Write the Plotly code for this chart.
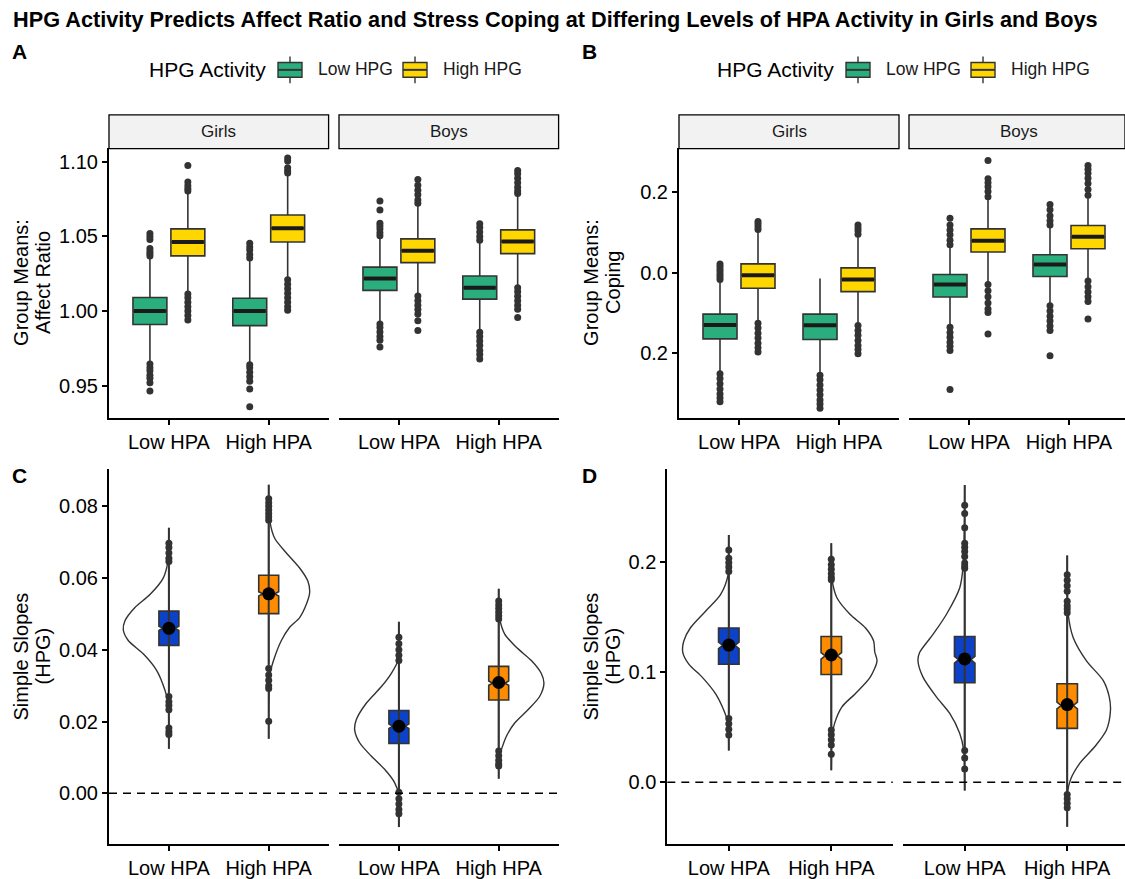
import plotly.graph_objects as go

W, H = 1125, 879
FONT = "Liberation Sans, Arial, Helvetica, sans-serif"

# ---------------- shared labels ----------------
hpa_labels = ["Low HPA", "High HPA"]
sex_labels = ["Girls", "Boys"]
hpg_labels = ["Low HPG", "High HPG"]
hpg_colors = ["#2AAE7E", "#FFD700"]
hpa_colors = ["#0B42C8", "#FF8C00"]
legend_title = "HPG Activity"

# ---------------- Panel A: Group means, Affect Ratio ----------------
# order: Girls(LowHPG LowHPA, LowHPG HighHPA, HighHPG LowHPA, HighHPG HighHPA), Boys(same)
A_sex = ["Girls"] * 4 + ["Boys"] * 4
A_hpg = ["Low HPG", "Low HPG", "High HPG", "High HPG"] * 2
A_hpa = ["Low HPA", "High HPA"] * 4
A_q1 = [0.9910, 0.9903, 1.0370, 1.0463, 1.0139, 1.0080, 1.0325, 1.0385]
A_med = [1.0000, 1.0000, 1.0463, 1.0555, 1.0219, 1.0157, 1.0405, 1.0467]
A_q3 = [1.0091, 1.0086, 1.0551, 1.0644, 1.0295, 1.0235, 1.0484, 1.0544]
A_lo = [0.9655, 0.9650, 1.0125, 1.0220, 0.9920, 0.9865, 1.0105, 1.0165]
A_hi = [1.0365, 1.0340, 1.0795, 1.0910, 1.0495, 1.0460, 1.0715, 1.0780]
A_out = [
    [1.052, 1.050, 1.048, 1.042, 1.040, 1.0385, 1.037, 0.9645, 0.962, 0.960, 0.957, 0.955, 0.952, 0.9465],
    [1.0455, 1.043, 1.041, 1.038, 1.0355, 0.964, 0.962, 0.959, 0.956, 0.953, 0.9478, 0.936],
    [1.0976, 1.0865, 1.084, 1.082, 1.0805, 1.0115, 1.009, 1.006, 1.003, 1.000, 0.997, 0.994],
    [1.1025, 1.1005, 1.096, 1.094, 1.0925, 1.021, 1.018, 1.015, 1.012, 1.009, 1.006, 1.003, 1.0005],
    [1.0737, 1.0677, 1.0589, 1.057, 1.055, 1.0525, 1.0505, 0.9914, 0.989, 0.986, 0.983, 0.9805, 0.9759],
    [1.0585, 1.056, 1.053, 1.050, 1.0475, 0.9859, 0.983, 0.980, 0.977, 0.9737, 0.971, 0.968],
    [1.0882, 1.0843, 1.081, 1.078, 1.0745, 1.0722, 1.0102, 1.007, 1.004, 1.001, 0.998, 0.9936, 0.987],
    [1.0942, 1.092, 1.089, 1.086, 1.083, 1.0805, 1.0788, 1.0157, 1.013, 1.010, 1.007, 1.004, 1.0013, 0.9958],
]
A_ticks = [0.95, 1.00, 1.05, 1.10]
A_ticktext = ["0.95", "1.00", "1.05", "1.10"]
A_range = [0.9285, 1.1093]

# ---------------- Panel B: Group means, Coping ----------------
B_q1 = [-0.1640, -0.1656, -0.0390, -0.0473, -0.0603, -0.0098, 0.0507, 0.0588]
B_med = [-0.1297, -0.1305, -0.0065, -0.0171, -0.0294, 0.0196, 0.0783, 0.0881]
B_q3 = [-0.1028, -0.1028, 0.0213, 0.0115, -0.0049, 0.0440, 0.1077, 0.1160]
B_lo = [-0.248, -0.252, -0.124, -0.129, -0.134, -0.081, -0.028, -0.020]
B_hi = [-0.019, -0.0147, 0.104, 0.0935, 0.067, 0.116, 0.186, 0.190]
B_out = [
    [0.0213, 0.015, 0.008, 0.002, -0.005, -0.011, -0.017, -0.250, -0.262, -0.275, -0.288, -0.300, -0.310, -0.319],
    [-0.2537, -0.265, -0.278, -0.290, -0.302, -0.315, -0.325, -0.335],
    [0.126, 0.120, 0.113, 0.106, -0.1256, -0.137, -0.150, -0.162, -0.175, -0.186, -0.1966],
    [0.1175, 0.110, 0.103, 0.0947, -0.131, -0.143, -0.155, -0.168, -0.180, -0.190, -0.2007],
    [0.134, 0.1175, 0.105, 0.093, 0.080, 0.0685, -0.1354, -0.148, -0.160, -0.172, -0.182, -0.1924, -0.2889],
    [0.168, 0.155, 0.140, 0.128, 0.1175, -0.0823, -0.095, -0.108, -0.120, -0.132, -0.1435, -0.2056],
    [0.2766, 0.2318, 0.222, 0.212, 0.200, 0.187, -0.0294, -0.045, -0.060, -0.075, -0.090, -0.0987, -0.1518],
    [0.2644, 0.255, 0.245, 0.233, 0.220, 0.205, 0.191, -0.021, -0.035, -0.048, -0.060, -0.0717, -0.115],
]
B_ticks = [-0.2, 0.0, 0.2]
B_ticktext = ["0.2", "0.0", "0.2"]
B_range = [-0.359, 0.3077]

# ---------------- Panel C: Simple slopes (HPG), Affect Ratio ----------------
# order: Girls Low HPA, Girls High HPA, Boys Low HPA, Boys High HPA
S_sex = ["Girls", "Girls", "Boys", "Boys"]
S_hpa = ["Low HPA", "High HPA", "Low HPA", "High HPA"]
C_q1 = [0.0412, 0.0501, 0.0139, 0.0260]
C_med = [0.0460, 0.0556, 0.0187, 0.0307]
C_q3 = [0.0508, 0.0608, 0.0231, 0.0354]
C_mean = [0.0460, 0.0556, 0.0187, 0.0309]
C_lo = [0.0285, 0.0360, 0.0010, 0.0125]
C_hi = [0.0635, 0.0750, 0.0360, 0.0480]
C_notch = [0.0006, 0.0006, 0.0006, 0.0006]
C_out = [
    [0.0697, 0.0685, 0.067, 0.0655, 0.0646, 0.027, 0.0255, 0.0245, 0.0233, 0.0182, 0.0172, 0.0164],
    [0.0821, 0.081, 0.080, 0.079, 0.078, 0.077, 0.0761, 0.0348, 0.033, 0.0315, 0.030, 0.0292, 0.0201],
    [0.0435, 0.0417, 0.040, 0.0385, 0.037, 0.0003, -0.0015, -0.003, -0.0045, -0.0057],
    [0.0536, 0.0525, 0.0515, 0.0505, 0.0495, 0.0486, 0.0118, 0.0105, 0.0092, 0.0082, 0.0076],
]
# half-violin: value grid and density (half width, in category units)
C_vy = [
    [0.0740, 0.0690, 0.0646, 0.0600, 0.0554, 0.0518, 0.0481, 0.0456, 0.0426, 0.0389, 0.0343, 0.0288, 0.0251, 0.0200, 0.0124],
    [0.0860, 0.0805, 0.0761, 0.0711, 0.0670, 0.0628, 0.0591, 0.0559, 0.0527, 0.0490, 0.0463, 0.0426, 0.0380, 0.0338, 0.0250, 0.0152],
    [0.0478, 0.0420, 0.0370, 0.0334, 0.0297, 0.0251, 0.0205, 0.0177, 0.0141, 0.0104, 0.0067, 0.0030, -0.0002, -0.0050, -0.0094],
    [0.0570, 0.0520, 0.0486, 0.0444, 0.0407, 0.0370, 0.0334, 0.0306, 0.0270, 0.0233, 0.0196, 0.0159, 0.0122, 0.0104, 0.0041],
]
C_vd = [
    [0.0, 0.002, 0.010, 0.057, 0.190, 0.340, 0.440, 0.457, 0.407, 0.257, 0.123, 0.040, 0.007, 0.002, 0.0],
    [0.0, 0.002, 0.010, 0.060, 0.177, 0.310, 0.393, 0.410, 0.377, 0.310, 0.210, 0.127, 0.060, 0.017, 0.002, 0.0],
    [0.0, 0.002, 0.010, 0.077, 0.177, 0.327, 0.427, 0.443, 0.393, 0.277, 0.143, 0.043, 0.003, 0.001, 0.0],
    [0.0, 0.002, 0.010, 0.060, 0.177, 0.327, 0.427, 0.453, 0.410, 0.293, 0.160, 0.077, 0.027, 0.007, 0.0],
]
C_ticks = [0.00, 0.02, 0.04, 0.06, 0.08]
C_ticktext = ["0.00", "0.02", "0.04", "0.06", "0.08"]
C_range = [-0.0141, 0.0904]

# ---------------- Panel D: Simple slopes (HPG), Coping ----------------
D_q1 = [0.1069, 0.0976, 0.0901, 0.0488]
D_med = [0.1240, 0.1145, 0.1110, 0.0695]
D_q3 = [0.1398, 0.1320, 0.1320, 0.0892]
D_mean = [0.1243, 0.1153, 0.1117, 0.0703]
D_lo = [0.062, 0.051, 0.032, -0.009]
D_hi = [0.188, 0.181, 0.192, 0.151]
D_notch = [0.003, 0.003, 0.003, 0.003]
D_out = [
    [0.2105, 0.203, 0.199, 0.195, 0.191, 0.0578, 0.053, 0.048, 0.0428],
    [0.202, 0.197, 0.193, 0.189, 0.1855, 0.1836, 0.0473, 0.043, 0.0385, 0.0338, 0.0254],
    [0.251, 0.2435, 0.2306, 0.2165, 0.213, 0.209, 0.2045, 0.1986, 0.196, 0.194, 0.0288, 0.0218, 0.012],
    [0.188, 0.183, 0.178, 0.173, 0.164, 0.160, 0.157, 0.1536, -0.0111, -0.015, -0.019, -0.0231],
]
D_vy = [
    [0.2240, 0.2050, 0.1880, 0.1700, 0.1550, 0.1400, 0.1280, 0.1177, 0.1070, 0.0952, 0.0802, 0.0652, 0.0533, 0.0400, 0.0288],
    [0.2165, 0.1980, 0.1836, 0.1670, 0.1520, 0.1400, 0.1280, 0.1180, 0.1100, 0.0952, 0.0802, 0.0683, 0.0533, 0.0413, 0.0250, 0.0108],
    [0.2695, 0.2300, 0.1940, 0.1760, 0.1520, 0.1340, 0.1177, 0.1100, 0.0952, 0.0773, 0.0623, 0.0443, 0.0293, 0.0120, -0.0075],
    [0.2054, 0.1750, 0.1520, 0.1310, 0.1100, 0.0922, 0.0773, 0.0652, 0.0473, 0.0323, 0.0173, 0.0023, -0.0096, -0.0250, -0.0404],
]
D_vd = [
    [0.0, 0.002, 0.007, 0.081, 0.227, 0.374, 0.439, 0.449, 0.390, 0.260, 0.130, 0.049, 0.007, 0.002, 0.0],
    [0.0, 0.002, 0.007, 0.056, 0.185, 0.332, 0.413, 0.424, 0.446, 0.380, 0.234, 0.104, 0.032, 0.007, 0.002, 0.0],
    [0.0, 0.003, 0.017, 0.049, 0.179, 0.309, 0.439, 0.456, 0.407, 0.276, 0.146, 0.049, 0.010, 0.002, 0.0],
    [0.0, 0.002, 0.010, 0.059, 0.188, 0.351, 0.410, 0.422, 0.383, 0.270, 0.124, 0.032, 0.003, 0.001, 0.0],
]
D_ticks = [0.0, 0.1, 0.2]
D_ticktext = ["0.0", "0.1", "0.2"]
D_range = [-0.056, 0.2839]

# ---------------- layout geometry (pixels) ----------------
geo = {
    "A": dict(facets=[(109, 328.6), (339, 558.6)], top=149.3, bottom=421.7),
    "B": dict(facets=[(679, 899), (909, 1129)], top=149.3, bottom=421.7),
    "C": dict(facets=[(109, 328.6), (339, 558.6)], top=473.3, bottom=851.7),
    "D": dict(facets=[(667.3, 892.8), (903.2, 1128.7)], top=473.3, bottom=851.7),
}
axis_ids = {"A": (("x", "x2"), "y"), "B": (("x3", "x4"), "y2"),
            "C": (("x5", "x6"), "y3"), "D": (("x7", "x8"), "y4")}

DARK = "#333333"
fig = go.Figure()


def xa_name(a):
    return "xaxis" + a[1:]


def ya_name(a):
    return "yaxis" + a[1:]


def px(xp):
    return xp / W


def py(yp):
    return 1 - yp / H


# ---------- group-mean boxplots (A, B) ----------
dodge = [-0.19, 0.19]
box_w = 0.34


def add_group_boxes(panel, q1, med, q3, lo, hi, out):
    xs_ids, y_id = axis_ids[panel]
    for si, sex in enumerate(sex_labels):
        for gi, hpg in enumerate(hpg_labels):
            idx = [i for i in range(8) if A_sex[i] == sex and A_hpg[i] == hpg]
            xpos = [hpa_labels.index(A_hpa[i]) + 1 + dodge[gi] for i in idx]
            fig.add_trace(go.Box(
                x=xpos, q1=[q1[i] for i in idx], median=[med[i] for i in idx],
                q3=[q3[i] for i in idx], lowerfence=[lo[i] for i in idx],
                upperfence=[hi[i] for i in idx], width=box_w,
                fillcolor=hpg_colors[gi], line=dict(color=DARK, width=1.6),
                whiskerwidth=0, boxpoints=False, name=hpg, showlegend=False,
                xaxis=xs_ids[si], yaxis=y_id, hoverinfo="skip"))
            mx, my = [], []
            for k, i in enumerate(idx):
                mx += [xpos[k] - box_w / 2 + 0.01, xpos[k] + box_w / 2 - 0.01, None]
                my += [med[i], med[i], None]
            fig.add_trace(go.Scatter(x=mx, y=my, mode="lines",
                                     line=dict(color="#1a1a1a", width=4),
                                     showlegend=False, xaxis=xs_ids[si], yaxis=y_id,
                                     hoverinfo="skip"))
            ox, oy = [], []
            for k, i in enumerate(idx):
                ox += [xpos[k]] * len(out[i])
                oy += out[i]
            fig.add_trace(go.Scatter(x=ox, y=oy, mode="markers",
                                     marker=dict(color=DARK, size=7),
                                     showlegend=False, xaxis=xs_ids[si], yaxis=y_id,
                                     hoverinfo="skip"))


add_group_boxes("A", A_q1, A_med, A_q3, A_lo, A_hi, A_out)
add_group_boxes("B", B_q1, B_med, B_q3, B_lo, B_hi, B_out)


# ---------- simple-slope raincloud plots (C, D) ----------
def add_slopes(panel, q1, med, q3, mean, lo, hi, notch, out, vy, vd):
    xs_ids, y_id = axis_ids[panel]
    for i in range(4):
        xa = xs_ids[sex_labels.index(S_sex[i])]
        hi_idx = hpa_labels.index(S_hpa[i])
        c = hi_idx + 1
        side = -1 if hi_idx == 0 else 1
        fig.add_trace(go.Scatter(x=[c, c], y=[vy[i][0], vy[i][-1]], mode="lines",
                                 line=dict(color=DARK, width=2), showlegend=False,
                                 xaxis=xa, yaxis=y_id, hoverinfo="skip"))
        fig.add_trace(go.Scatter(x=[c + side * d for d in vd[i]], y=vy[i], mode="lines",
                                 line=dict(color=DARK, width=1.4, shape="spline", smoothing=0.8),
                                 showlegend=False, xaxis=xa, yaxis=y_id, hoverinfo="skip"))
        fig.add_trace(go.Box(
            x=[c], q1=[q1[i]], median=[med[i]], q3=[q3[i]], lowerfence=[lo[i]],
            upperfence=[hi[i]], notched=True, notchspan=[notch[i]], notchwidth=0.2,
            width=0.2, fillcolor=hpa_colors[hi_idx], line=dict(color=DARK, width=1.6),
            whiskerwidth=0, boxpoints=False, showlegend=False,
            xaxis=xa, yaxis=y_id, hoverinfo="skip"))
        fig.add_trace(go.Scatter(x=[c] * len(out[i]), y=out[i], mode="markers",
                                 marker=dict(color=DARK, size=7), showlegend=False,
                                 xaxis=xa, yaxis=y_id, hoverinfo="skip"))
        fig.add_trace(go.Scatter(x=[c], y=[mean[i]], mode="markers",
                                 marker=dict(color="black", size=13), showlegend=False,
                                 xaxis=xa, yaxis=y_id, hoverinfo="skip"))


add_slopes("C", C_q1, C_med, C_q3, C_mean, C_lo, C_hi, C_notch, C_out, C_vy, C_vd)
add_slopes("D", D_q1, D_med, D_q3, D_mean, D_lo, D_hi, D_notch, D_out, D_vy, D_vd)

# ---------- axes, strips, reference lines ----------
yinfo = {"A": (A_range, A_ticks, A_ticktext), "B": (B_range, B_ticks, B_ticktext),
         "C": (C_range, C_ticks, C_ticktext), "D": (D_range, D_ticks, D_ticktext)}
layout_axes = {}
shapes = []
annotations = []


def add_text(text, x, y, size, color="black", angle=0, xanchor="center"):
    annotations.append(dict(text=text, xref="paper", yref="paper", x=px(x), y=py(y),
                            xanchor=xanchor, yanchor="middle", textangle=angle,
                            showarrow=False, font=dict(size=size, color=color, family=FONT)))


for panel, g in geo.items():
    xs_ids, y_id = axis_ids[panel]
    for fi, (L, R) in enumerate(g["facets"]):
        Rc = min(R, W)
        rng_end = 0.4 + 2.2 * (Rc - L) / (R - L)
        layout_axes[xa_name(xs_ids[fi])] = dict(
            domain=[px(L), px(Rc)], range=[0.4, rng_end], anchor=y_id,
            tickvals=[1, 2], ticktext=hpa_labels, ticks="outside", ticklen=5,
            tickwidth=1.5, tickcolor="black", showline=True, linecolor="black",
            linewidth=2, showgrid=False, zeroline=False,
            tickfont=dict(size=20, color="black", family=FONT), fixedrange=True)
        if panel in ("A", "B"):
            shapes.append(dict(type="rect", xref="paper", yref="paper",
                               x0=px(L), x1=px(Rc), y0=py(150), y1=py(116),
                               fillcolor="#F2F2F2", line=dict(color="black", width=1.3)))
            add_text(sex_labels[fi], (L + R) / 2, 133, 17, "#1a1a1a")
        else:
            shapes.append(dict(type="line", xref=xs_ids[fi] + " domain", yref=y_id,
                               x0=0, x1=1, y0=0, y1=0,
                               line=dict(color="black", width=1.5, dash="8px,6px")))
    rng, tv, tt = yinfo[panel]
    layout_axes[ya_name(y_id)] = dict(
        domain=[py(g["bottom"]), py(g["top"])], range=rng, anchor=xs_ids[0],
        tickvals=tv, ticktext=tt, ticks="outside", ticklen=5, tickwidth=1.5,
        tickcolor="black", showline=True, linecolor="black", linewidth=2,
        showgrid=False, zeroline=False,
        tickfont=dict(size=20, color="black", family=FONT), fixedrange=True)

# y-axis titles (two lines each)
ytitles = {"A": (["Group Means:", "Affect Ratio"], 21, 43),
           "B": (["Group Means:", "Coping"], 591, 613),
           "C": (["Simple Slopes", "(HPG)"], 21, 43),
           "D": (["Simple Slopes", "(HPG)"], 591, 613)}
for panel, (lines, xa1, xa2) in ytitles.items():
    g = geo[panel]
    yc = (g["top"] + g["bottom"]) / 2
    for txt, xp in zip(lines, (xa1, xa2)):
        add_text(txt, xp, yc, 20, angle=-90)

# panel letters
for letter, (xp, yp) in {"A": (19, 52), "B": (589, 52), "C": (19, 480), "D": (589, 480)}.items():
    add_text("<b>" + letter + "</b>", xp, yp, 21)

# title
add_text("<b>HPG Activity Predicts Affect Ratio and Stress Coping at Differing Levels "
         "of HPA Activity in Girls and Boys</b>", 555, 20, 21.7)

# legends (top of panels A and B)
for x0 in (147, 715):
    add_text(legend_title, x0, 70, 21, xanchor="left")
    for gi, (kx, lx) in enumerate(((131, 169), (256, 294))):
        k0, k1 = x0 + kx, x0 + kx + 24
        kc = (k0 + k1) / 2
        shapes.append(dict(type="line", xref="paper", yref="paper", x0=px(kc), x1=px(kc),
                           y0=py(57), y1=py(84), line=dict(color=DARK, width=1.4)))
        shapes.append(dict(type="rect", xref="paper", yref="paper", x0=px(k0), x1=px(k1),
                           y0=py(78), y1=py(63), fillcolor=hpg_colors[gi],
                           line=dict(color=DARK, width=1.4)))
        shapes.append(dict(type="line", xref="paper", yref="paper", x0=px(k0), x1=px(k1),
                           y0=py(70.5), y1=py(70.5), line=dict(color=DARK, width=2)))
        add_text(hpg_labels[gi], x0 + lx, 70, 17.5, "#1a1a1a", xanchor="left")

fig.update_layout(
    width=W, height=H, autosize=False, margin=dict(l=0, r=0, t=0, b=0),
    paper_bgcolor="white", plot_bgcolor="white", boxmode="overlay",
    hovermode=False, showlegend=False, font=dict(family=FONT),
    shapes=shapes, annotations=annotations, **layout_axes)

fig.write_html("out.html", config={"displayModeBar": False},
               post_script="document.body.style.margin='0';")
